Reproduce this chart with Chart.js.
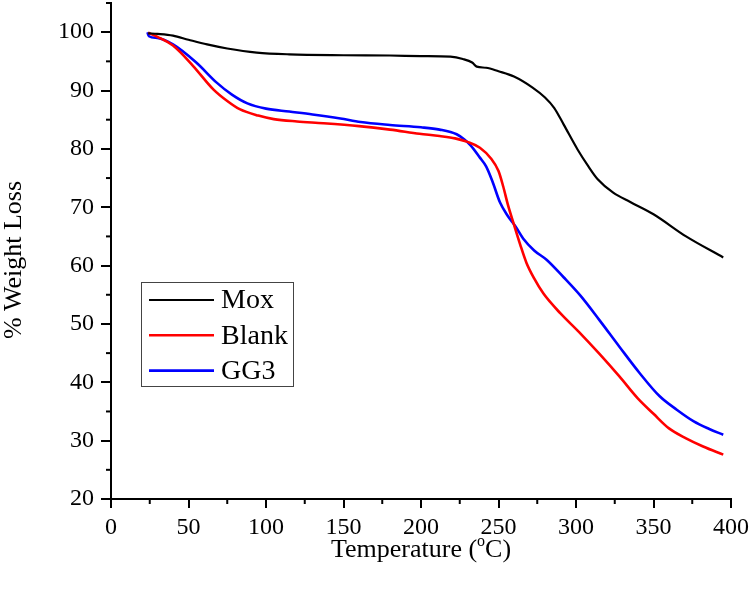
<!DOCTYPE html>
<html>
<head>
<meta charset="utf-8">
<script src="https://cdn.jsdelivr.net/npm/chart.js@4.4.1/dist/chart.umd.min.js"></script>
<style>
  html, body { margin: 0; padding: 0; background: #fff; }
  #wrap { width: 750px; height: 589px; }
</style>
</head>
<body>
<div id="wrap"><canvas id="tga" width="750" height="589"></canvas></div>
<script>
// data
const seriesNames = ['Mox', 'Blank', 'GG3'];
const seriesColors = ['#000000', '#ff0000', '#0000ff'];

const moxTemp = [24, 30, 40, 50, 62, 75, 94, 115, 150, 180, 200, 219, 227, 233, 236, 242, 250, 260, 272, 280, 286, 292, 301, 308, 314, 324, 335, 350, 371, 395];
const moxLoss = [99.8, 99.7, 99.4, 98.7, 97.9, 97.2, 96.5, 96.2, 96.05, 96.0, 95.9, 95.8, 95.4, 94.8, 94.1, 93.9, 93.3, 92.4, 90.5, 88.8, 87.0, 84.2, 79.9, 77.0, 74.8, 72.5, 70.9, 68.8, 65.0, 61.4];

const blankTemp = [24, 30, 40, 53, 66, 75, 83, 95, 105, 120, 137, 160, 180, 199, 212, 222, 230, 238, 245, 250, 253, 256, 260, 264, 268, 273, 279, 290, 302, 315, 328, 340, 350, 360, 371, 382, 395];
const blankLoss = [99.9, 99.2, 97.7, 94.2, 90.2, 88.2, 86.8, 85.7, 85.1, 84.7, 84.4, 83.9, 83.3, 82.6, 82.2, 81.8, 81.2, 80.2, 78.4, 76.2, 73.6, 70.5, 67.0, 63.6, 60.5, 57.8, 55.2, 51.8, 48.6, 44.9, 41.0, 37.2, 34.6, 32.1, 30.4, 29.0, 27.6];

const gg3Temp = [23.5, 24.5, 30, 40, 55, 68, 78, 88, 100, 115, 130, 148, 161, 180, 200, 212, 223, 228, 232, 238, 242, 246, 251, 256, 261, 266, 273, 281, 292, 303, 315, 328, 341, 354, 365, 376, 386, 395];
const gg3Loss = [100.0, 99.3, 99.0, 97.9, 94.8, 91.4, 89.3, 87.8, 86.9, 86.4, 85.9, 85.2, 84.6, 84.1, 83.7, 83.3, 82.5, 81.6, 80.6, 78.5, 77.0, 74.5, 70.8, 68.5, 66.7, 64.6, 62.6, 61.0, 58.0, 54.8, 50.7, 46.1, 41.6, 37.6, 35.3, 33.3, 32.0, 31.0];

const xTicks = [0, 50, 100, 150, 200, 250, 300, 350, 400];
const yTicks = [20, 30, 40, 50, 60, 70, 80, 90, 100];

const FONT = "'Liberation Serif', 'Times New Roman', serif";

function toPoints(xs, ys) {
    return xs.map((x, i) => ({ x: x, y: ys[i] }));
}

// minor ticks, titles and boxed legend
const extras = {
    id: 'extras',
    afterDraw(chart) {
        const ctx = chart.ctx;
        const xs = chart.scales.x, ys = chart.scales.y;
        const area = chart.chartArea;
        ctx.save();
        ctx.strokeStyle = '#000';
        ctx.lineWidth = 2;
        // minor ticks halfway between majors
        for (let i = 0; i < xTicks.length - 1; i++) {
            const px = xs.getPixelForValue((xTicks[i] + xTicks[i + 1]) / 2);
            ctx.beginPath(); ctx.moveTo(px, area.bottom); ctx.lineTo(px, area.bottom + 5); ctx.stroke();
        }
        for (let i = 0; i < yTicks.length; i++) {
            const py = ys.getPixelForValue(yTicks[i] + 5);
            ctx.beginPath(); ctx.moveTo(area.left, py); ctx.lineTo(area.left - 5, py); ctx.stroke();
        }

        // x title with superscript o
        ctx.fillStyle = '#000';
        ctx.textBaseline = 'alphabetic';
        ctx.textAlign = 'left';
        const big = '26px ' + FONT, small = '16px ' + FONT;
        ctx.font = big;
        const a = 'Temperature (', c = 'C)';
        const wa = ctx.measureText(a).width, wc = ctx.measureText(c).width;
        ctx.font = small;
        const wo = ctx.measureText('o').width;
        let sx = (area.left + area.right) / 2 - (wa + wo + wc) / 2;
        const base = 557;
        ctx.font = big; ctx.fillText(a, sx, base);
        ctx.font = small; ctx.fillText('o', sx + wa, base - 11);
        ctx.font = big; ctx.fillText(c, sx + wa + wo, base);

        // y title
        ctx.save();
        ctx.translate(14, 260);
        ctx.rotate(-Math.PI / 2);
        ctx.textAlign = 'center';
        ctx.textBaseline = 'middle';
        ctx.font = '26px ' + FONT;
        ctx.fillText('% Weight Loss', 0, 0);
        ctx.restore();

        // legend box
        const lx = 141, ly = 282, lw = 152, lh = 104;
        ctx.lineWidth = 1;
        ctx.strokeStyle = '#444';
        ctx.strokeRect(lx + 0.5, ly + 0.5, lw, lh);
        ctx.font = '28px ' + FONT;
        ctx.textBaseline = 'middle';
        chart.data.datasets.forEach((ds, i) => {
            const yy = 300 + i * 35.3;
            ctx.strokeStyle = ds.borderColor;
            ctx.lineWidth = ds.borderWidth;
            ctx.beginPath(); ctx.moveTo(149, yy); ctx.lineTo(214, yy); ctx.stroke();
            ctx.fillStyle = '#000';
            ctx.fillText(ds.label, 221, yy + 1);
        });
        ctx.restore();
    }
};

const series = [toPoints(moxTemp, moxLoss), toPoints(blankTemp, blankLoss), toPoints(gg3Temp, gg3Loss)];

new Chart(document.getElementById('tga'), {
    type: 'line',
    data: {
        datasets: series.map((pts, i) => ({
            label: seriesNames[i],
            data: pts,
            borderColor: seriesColors[i],
            borderWidth: i === 0 ? 2.2 : 2.6,
            pointRadius: 0,
            fill: false,
            cubicInterpolationMode: 'monotone'
        }))
    },
    options: {
        responsive: false,
        animation: false,
        layout: { padding: { top: 3, right: 19, left: 0, bottom: 0 } },
        plugins: { legend: { display: false }, tooltip: { enabled: false } },
        scales: {
            x: {
                type: 'linear',
                min: 0, max: 400,
                afterFit(scale) { scale.height = 90; scale.paddingLeft = 0; scale.paddingRight = 0; },
                afterBuildTicks(scale) { scale.ticks = xTicks.map(v => ({ value: v })); },
                grid: { drawOnChartArea: false, color: '#000', lineWidth: 2, tickLength: 9 },
                border: { display: true, color: '#000', width: 2 },
                ticks: { color: '#000', font: { family: FONT, size: 24 }, padding: 5, maxRotation: 0 }
            },
            y: {
                type: 'linear',
                min: 20, max: 105,
                afterFit(scale) { scale.width = 111; scale.paddingTop = 0; scale.paddingBottom = 0; },
                afterBuildTicks(scale) { scale.ticks = yTicks.map(v => ({ value: v })); },
                grid: { drawOnChartArea: false, color: '#000', lineWidth: 2, tickLength: 10 },
                border: { display: true, color: '#000', width: 2 },
                ticks: { color: '#000', font: { family: FONT, size: 24 }, padding: 7 }
            }
        }
    },
    plugins: [extras]
});
</script>
</body>
</html>
